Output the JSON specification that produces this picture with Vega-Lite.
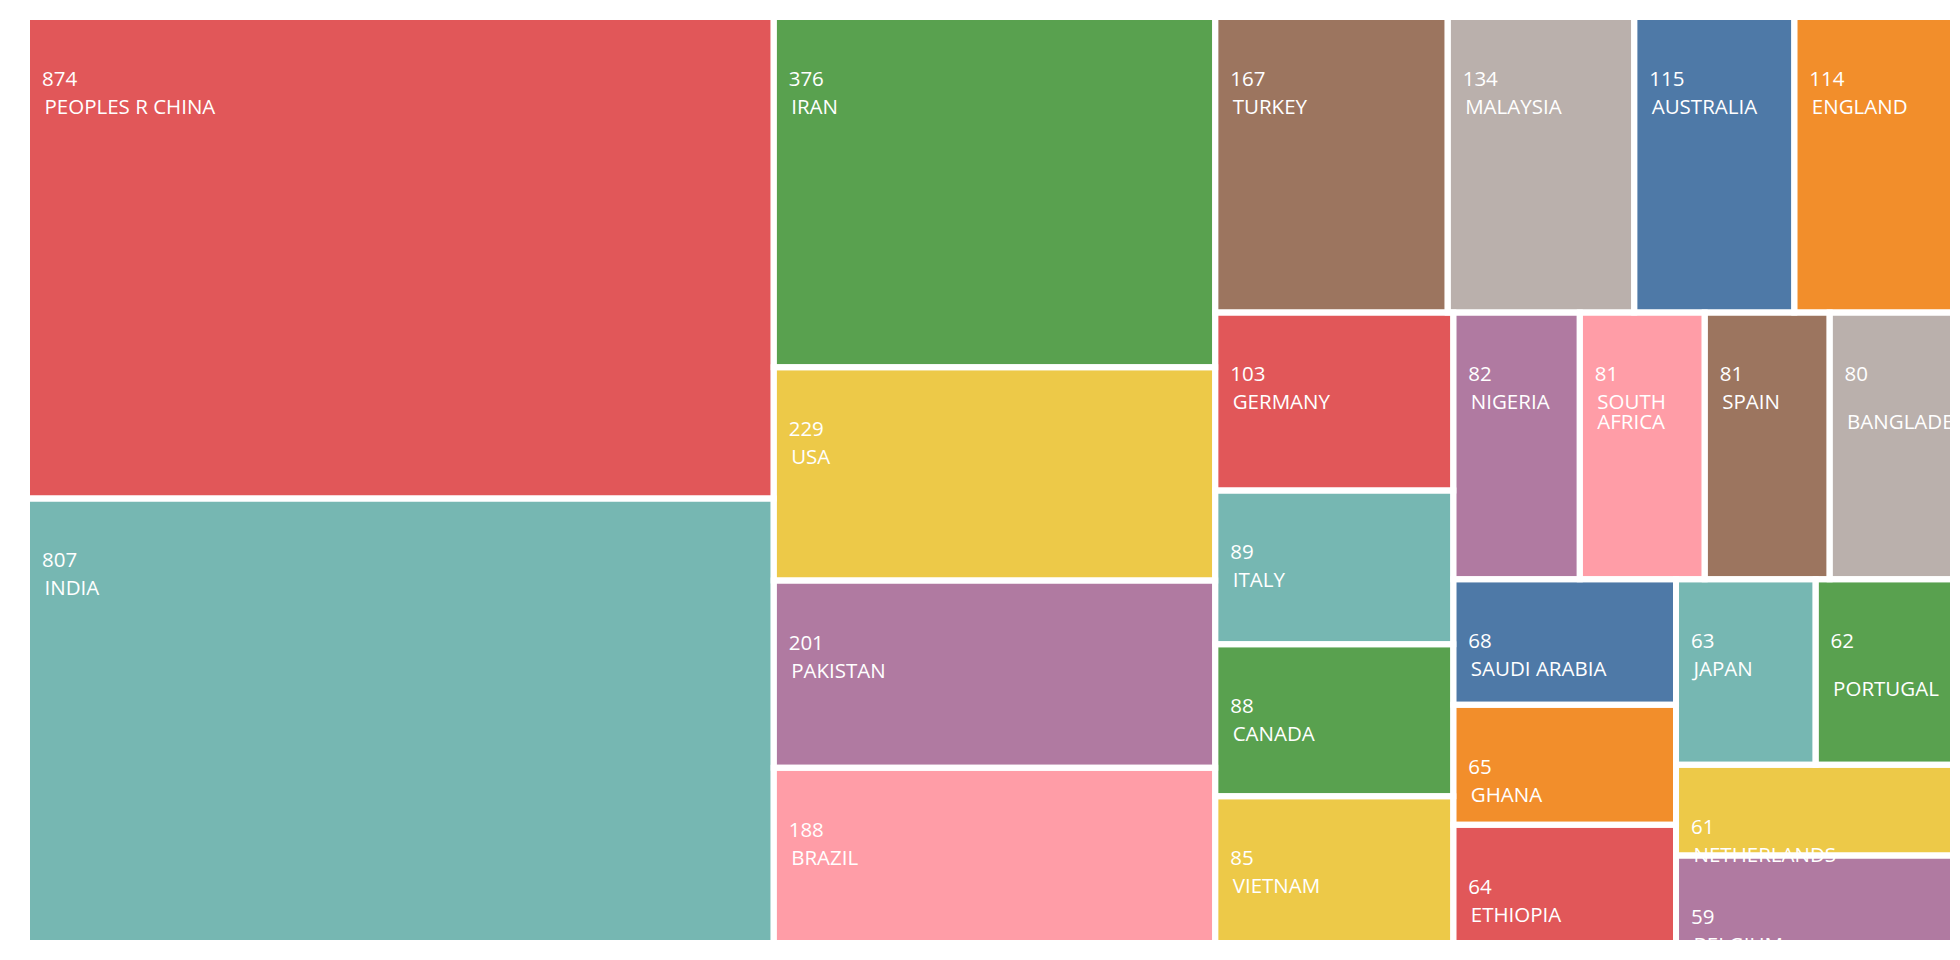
{
  "$schema": "https://vega.github.io/schema/vega-lite/v6.json",
  "width": 1926,
  "height": 926,
  "autosize": {"type": "none"},
  "padding": {"left": 27, "top": 17, "right": 7, "bottom": 17},
  "background": "white",
  "config": {"view": {"stroke": null}},
  "data": {
    "values": [
      {"country": "PEOPLES R CHINA", "value": 874, "group": 1},
      {"country": "INDIA", "value": 807, "group": 1},
      {"country": "IRAN", "value": 376, "group": 2},
      {"country": "USA", "value": 229, "group": 2},
      {"country": "PAKISTAN", "value": 201, "group": 2},
      {"country": "BRAZIL", "value": 188, "group": 2},
      {"country": "TURKEY", "value": 167, "group": 3},
      {"country": "MALAYSIA", "value": 134, "group": 3},
      {"country": "AUSTRALIA", "value": 115, "group": 3},
      {"country": "ENGLAND", "value": 114, "group": 3},
      {"country": "GERMANY", "value": 103, "group": 4},
      {"country": "ITALY", "value": 89, "group": 4},
      {"country": "CANADA", "value": 88, "group": 4},
      {"country": "VIETNAM", "value": 85, "group": 4},
      {"country": "NIGERIA", "value": 82, "group": 5},
      {"country": "SOUTH AFRICA", "value": 81, "group": 5},
      {"country": "SPAIN", "value": 81, "group": 5},
      {"country": "BANGLADESH", "value": 80, "group": 5},
      {"country": "SAUDI ARABIA", "value": 68, "group": 6},
      {"country": "GHANA", "value": 65, "group": 6},
      {"country": "ETHIOPIA", "value": 64, "group": 6},
      {"country": "JAPAN", "value": 63, "group": 7},
      {"country": "PORTUGAL", "value": 62, "group": 7},
      {"country": "NETHERLANDS", "value": 61, "group": 8},
      {"country": "BELGIUM", "value": 59, "group": 8}
    ]
  },
  "transform": [
    {"window": [{"op": "sum", "field": "value", "as": "cum"}], "groupby": ["group"], "sort": [{"field": "value", "order": "descending"}], "ignorePeers": true, "frame": [null, 0]},
    {"calculate": "datum.group==1?datum.value:0", "as": "a1"},
    {"calculate": "datum.group==2?datum.value:0", "as": "a2"},
    {"calculate": "datum.group==3?datum.value:0", "as": "a3"},
    {"calculate": "datum.group==4?datum.value:0", "as": "a4"},
    {"calculate": "datum.group==5?datum.value:0", "as": "a5"},
    {"calculate": "datum.group==6?datum.value:0", "as": "a6"},
    {"calculate": "datum.group==7?datum.value:0", "as": "a7"},
    {"joinaggregate": [{"op": "sum", "field": "value", "as": "S"}], "groupby": ["group"]},
    {"joinaggregate": [
      {"op": "sum", "field": "a1", "as": "S1"},
      {"op": "sum", "field": "a2", "as": "S2"},
      {"op": "sum", "field": "a3", "as": "S3"},
      {"op": "sum", "field": "a4", "as": "S4"},
      {"op": "sum", "field": "a5", "as": "S5"},
      {"op": "sum", "field": "a6", "as": "S6"},
      {"op": "sum", "field": "a7", "as": "S7"},
      {"op": "sum", "field": "value", "as": "T"}
    ]},
    {"calculate": "(datum.S1+datum.S2)/datum.T", "as": "X3"},
    {"calculate": "datum.S3/datum.T/(1-datum.X3)", "as": "H3"},
    {"calculate": "datum.X3+datum.S4/datum.T/(1-datum.H3)", "as": "X5"},
    {"calculate": "datum.H3+datum.S5/datum.T/(1-datum.X5)", "as": "Y6"},
    {"calculate": "datum.X5+datum.S6/datum.T/(1-datum.Y6)", "as": "X7"},
    {"calculate": "datum.Y6+datum.S7/datum.T/(1-datum.X7)", "as": "Y8"},
    {"calculate": "datum.group==1?0:(datum.group==2?datum.S1/datum.T:(datum.group<=4?datum.X3:(datum.group<=6?datum.X5:datum.X7)))", "as": "sx0"},
    {"calculate": "datum.group==1?datum.S1/datum.T:(datum.group==2?datum.X3:(datum.group==4?datum.X5:(datum.group==6?datum.X7:1)))", "as": "sx1"},
    {"calculate": "datum.group<=3?0:(datum.group<=5?datum.H3:(datum.group<=7?datum.Y6:datum.Y8))", "as": "sy0"},
    {"calculate": "datum.group==3?datum.H3:(datum.group==5?datum.Y6:(datum.group==7?datum.Y8:1))", "as": "sy1"},
    {"calculate": "datum.group==3||datum.group==5||datum.group==7", "as": "isRow"},
    {"calculate": "(datum.cum-datum.value)/datum.S", "as": "f0"},
    {"calculate": "datum.cum/datum.S", "as": "f1"},
    {"calculate": "datum.isRow?datum.sx0+(datum.sx1-datum.sx0)*datum.f0:datum.sx0", "as": "x0"},
    {"calculate": "datum.isRow?datum.sx0+(datum.sx1-datum.sx0)*datum.f1:datum.sx1", "as": "x1"},
    {"calculate": "datum.isRow?datum.sy0:datum.sy0+(datum.sy1-datum.sy0)*datum.f0", "as": "y0"},
    {"calculate": "datum.isRow?datum.sy1:datum.sy0+(datum.sy1-datum.sy0)*datum.f1", "as": "y1"},
    {"calculate": "length(datum.country)/((datum.x1-datum.x0)*1926) > 0.057 ? (indexof(datum.country,' ')>=0 ? split(datum.country,' ') : ['', datum.country]) : datum.country", "as": "nameLabel"}
  ],
  "encoding": {
    "x": {"field": "x0", "type": "quantitative", "scale": {"domain": [0, 1], "nice": false, "zero": false}, "axis": null},
    "y": {"field": "y0", "type": "quantitative", "scale": {"domain": [0, 1], "nice": false, "zero": false, "reverse": true}, "axis": null}
  },
  "layer": [
    {
      "mark": {"type": "rect", "strokeWidth": 0},
      "encoding": {
        "x2": {"field": "x1"},
        "y2": {"field": "y1"},
        "color": {
          "field": "country",
          "type": "nominal",
          "legend": null,
          "scale": {
            "domain": ["PEOPLES R CHINA", "INDIA", "IRAN", "USA", "PAKISTAN", "BRAZIL", "TURKEY", "MALAYSIA", "AUSTRALIA", "ENGLAND", "GERMANY", "ITALY", "CANADA", "VIETNAM", "NIGERIA", "SOUTH AFRICA", "SPAIN", "BANGLADESH", "SAUDI ARABIA", "GHANA", "ETHIOPIA", "JAPAN", "PORTUGAL", "NETHERLANDS", "BELGIUM"],
            "range": ["#e15759", "#76b7b2", "#59a14f", "#edc948", "#b07aa1", "#ff9da7", "#9c755f", "#bab0ac", "#4e79a7", "#f28e2b", "#e15759", "#76b7b2", "#59a14f", "#edc948", "#b07aa1", "#ff9da7", "#9c755f", "#bab0ac", "#4e79a7", "#f28e2b", "#e15759", "#76b7b2", "#59a14f", "#edc948", "#b07aa1"]
          }
        }
      }
    },
    {
      "mark": {"type": "text", "align": "left", "baseline": "alphabetic", "dx": 15, "dy": 69, "font": "Open Sans", "fontSize": 20.5, "fontWeight": 500, "color": "white", "clip": true},
      "encoding": {"text": {"field": "value", "type": "quantitative"}}
    },
    {
      "mark": {"type": "text", "align": "left", "baseline": "alphabetic", "dx": 17.5, "dy": 97, "font": "Open Sans", "fontSize": 20.5, "fontWeight": 500, "lineHeight": 20, "color": "white", "clip": true},
      "encoding": {"text": {"field": "nameLabel", "type": "nominal"}}
    },
    {
      "mark": {"type": "rect", "filled": false, "stroke": "white", "strokeWidth": 6},
      "encoding": {
        "x2": {"field": "x1"},
        "y2": {"field": "y1"}
      }
    }
  ]
}
